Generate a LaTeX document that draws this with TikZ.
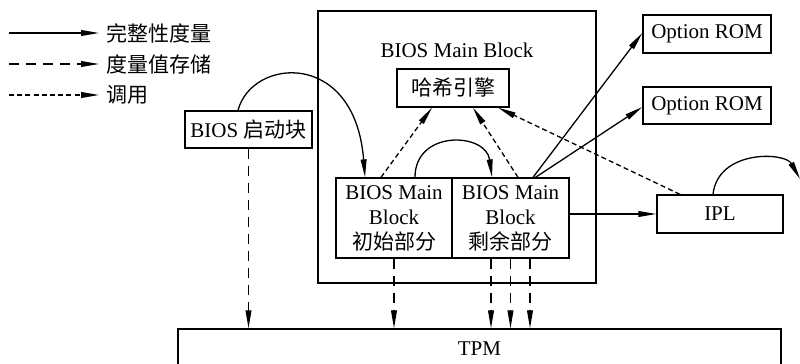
\documentclass[tikz,border=0pt]{standalone}
\usepackage{fontspec}
\setmainfont{Liberation Serif}
\newfontfamily\cjk{Noto Sans CJK SC}
\usetikzlibrary{arrows.meta,calc}
\begin{document}
\begin{tikzpicture}[x=0.5pt,y=-0.5pt,
  font=\fontsize{10.5pt}{12.5pt}\selectfont,
  line width=0.65pt,
  box/.style={draw, inner sep=0pt, align=center},
  arr/.style={-{Triangle[length=9pt,width=2.9pt]}},
  store/.style={arr, dash pattern=on 5pt off 3.5pt},
  call/.style={arr, dash pattern=on 2.5pt off 1.6pt},
  legtext/.style={anchor=west, inner sep=3.5pt}]
\useasboundingbox (0,0) rectangle (800,364);

% legend
\coordinate (l1) at (9,33);
\coordinate (l2) at (9,64);
\coordinate (l3) at (9,95);
\node[legtext] (t1) at (99,33) {\cjk 完整性度量};
\node[legtext] (t2) at (99,64) {\cjk 度量值存储};
\node[legtext] (t3) at (99,95) {\cjk 调用};
\draw[arr] (l1) -- (t1.west);
\draw[store] (l2) -- (t2.west);
\draw[call] (l3) -- (t3.west);

% nodes
\node[box, minimum width=63.5pt, minimum height=18.5pt] (boot) at (248.5,129.5) {BIOS {\cjk 启动块}};
\node[box, minimum width=139pt, minimum height=136pt] (main) at (457,147) {};
\node[inner sep=0pt] (title) at (457,50) {BIOS Main Block};
\node[box, minimum width=56pt, minimum height=19pt] (hash) at (453,88) {\cjk 哈希引擎};
\node[box, minimum width=58pt, minimum height=40pt] (li) at (394,218) {BIOS Main\\Block\\{\cjk 初始部分}};
\node[box, minimum width=58.5pt, minimum height=40pt] (ri) at (510.5,218) {BIOS Main\\Block\\{\cjk 剩余部分}};
\node[box, minimum width=64pt, minimum height=19pt] (rom1) at (707,34) {Option ROM};
\node[box, minimum width=64pt, minimum height=18.5pt] (rom2) at (707,105.5) {Option ROM};
\node[box, minimum width=63pt, minimum height=19pt] (ipl) at (720,214) {IPL};
\node[box, minimum width=301.5pt, minimum height=20pt] (tpm) at (479.5,349) {TPM};
\coordinate (iplend) at (800,179);

% curved measurement arrows
\draw[arr] ($(boot.north)+(-10.5,0)$) .. controls +(14,-53) and +(-10,-128) .. ($(li.north)+(-29,0)$);
\draw[arr] ($(li.north)+(21,0)$) .. controls +(0,-48) and +(-6,-45) .. ($(ri.north)+(-18.5,0)$);
\draw[arr] ($(ipl.north)+(-7,0)$) .. controls +(5,-45) and +(-15,-27) .. (iplend);

% solid measurement
\draw[arr] ($(ri.north)+(22.5,0)$) -- ($(rom1.west)+(0,-1)$);
\draw[arr] ($(ri.north)+(25,0)$) -- ($(rom2.west)+(0,1.5)$);
\draw[arr] (ri.east |- ipl.west) -- (ipl.west);

% calls to hash engine
\draw[call] ($(li.north)+(-13,0)$) -- ($(hash.south)+(-21,0)$);
\draw[call] ($(ri.north)+(7.5,0)$) -- ($(hash.south)+(20,0)$);
\draw[call] ($(ipl.north)+(-40,0)$) -- ($(hash.south)+(45,0)$);

% stores to TPM
\coordinate (r1) at ($(ri.south)+(-19.5,0)$);
\coordinate (r3) at ($(ri.south)+(19.5,0)$);
\draw[store] (boot.south) -- (boot.south |- tpm.north);
\draw[store] (li.south) -- (li.south |- tpm.north);
\draw[store] (r1) -- (r1 |- tpm.north);
\draw[store] (ri.south) -- (ri.south |- tpm.north);
\draw[store] (r3) -- (r3 |- tpm.north);
\end{tikzpicture}
\end{document}
